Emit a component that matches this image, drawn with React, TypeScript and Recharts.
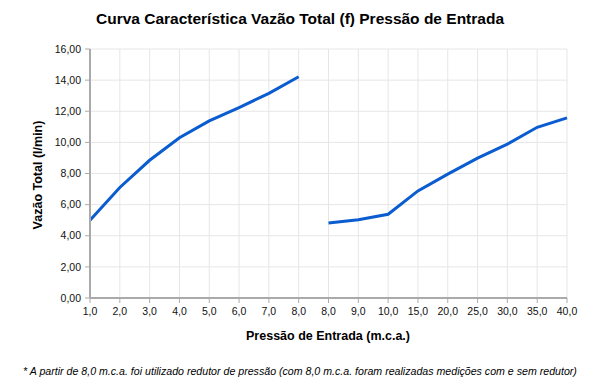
import { LineChart, Line, XAxis, YAxis, CartesianGrid } from 'recharts';

const pressureLabels = ['1,0', '2,0', '3,0', '4,0', '5,0', '6,0', '7,0', '8,0', '8,0', '9,0', '10,0', '15,0', '20,0', '25,0', '30,0', '35,0', '40,0'];
const semRedutor = [5.0, 7.1, 8.85, 10.3, 11.38, 12.24, 13.15, 14.22];
const comRedutor = [4.82, 5.03, 5.38, 6.88, 7.96, 8.99, 9.89, 10.97, 11.57];
const yTicks = [0, 2, 4, 6, 8, 10, 12, 14, 16];

const data = pressureLabels.map((label, i) => ({
  label,
  sem: i < semRedutor.length ? semRedutor[i] : null,
  com: i >= semRedutor.length ? comRedutor[i - semRedutor.length] : null,
}));

const fmt = (v: number) => v.toFixed(2).replace('.', ',');
const font = '"Liberation Sans", Arial, sans-serif';

export default function App() {
  return (
    <div style={{ position: 'absolute', left: 0, top: 0, width: 600, height: 381, background: '#fff', fontFamily: font }}>
      <div style={{ position: 'absolute', top: 10, left: 0, width: 600, textAlign: 'center', fontWeight: 'bold', fontSize: 15.5, color: '#000' }}>
        Curva Característica Vazão Total (f) Pressão de Entrada
      </div>
      <LineChart width={600} height={381} data={data} margin={{ top: 49, right: 33, bottom: 53, left: 30 }}>
        <CartesianGrid stroke="#e6e6e6" strokeWidth={1} />
        <XAxis
          dataKey="label"
          interval={0}
          height={30}
          axisLine={{ stroke: '#aaaaaa', strokeWidth: 2 }}
          tickLine={{ stroke: '#aaaaaa' }}
          tickSize={5}
          tickMargin={5}
          tick={{ fontSize: 10.5, fill: '#111', fontFamily: font }}
        />
        <YAxis
          width={60}
          domain={[0, 16]}
          ticks={yTicks}
          tickFormatter={fmt}
          axisLine={{ stroke: '#aaaaaa', strokeWidth: 2 }}
          tickLine={{ stroke: '#aaaaaa' }}
          tickSize={5}
          tickMargin={4}
          tick={{ fontSize: 10.5, fill: '#111', fontFamily: font }}
        />
        <Line type="linear" dataKey="sem" stroke="#0a5ccf" strokeWidth={3} dot={false} connectNulls={false} isAnimationActive={false} />
        <Line type="linear" dataKey="com" stroke="#0a5ccf" strokeWidth={3} dot={false} connectNulls={false} isAnimationActive={false} />
      </LineChart>
      <div style={{ position: 'absolute', left: 38, top: 175, transform: 'translate(-50%, -50%) rotate(-90deg)', whiteSpace: 'nowrap', fontWeight: 'bold', fontSize: 12.5, color: '#000' }}>
        Vazão Total (l/min)
      </div>
      <div style={{ position: 'absolute', top: 329, left: 328, transform: 'translateX(-50%)', whiteSpace: 'nowrap', fontWeight: 'bold', fontSize: 12.5, color: '#000' }}>
        Pressão de Entrada (m.c.a.)
      </div>
      <div style={{ position: 'absolute', top: 365, left: 300, transform: 'translateX(-50%) scaleX(0.965)', whiteSpace: 'nowrap', fontStyle: 'italic', fontSize: 11, color: '#000' }}>
        * A partir de 8,0 m.c.a. foi utilizado redutor de pressão (com 8,0 m.c.a. foram realizadas medições com e sem redutor)
      </div>
    </div>
  );
}
